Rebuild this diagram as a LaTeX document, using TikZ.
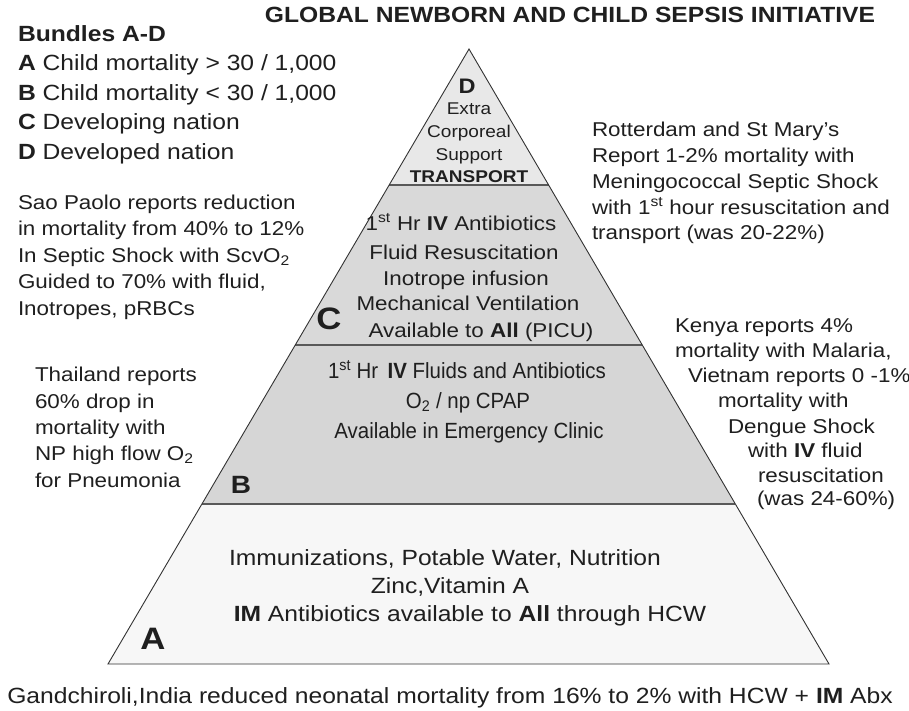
\documentclass[tikz,border=0pt]{standalone}
\usepackage{fontspec}
\setmainfont{Liberation Sans}[FakeStretch=1.12]
\newfontfamily\narrowfam{Liberation Sans}[FakeStretch=0.93]
\usetikzlibrary{calc}
\newcommand\myfs[2]{\fontsize{#1}{#2}\selectfont}
\begin{document}
\begin{tikzpicture}[x=1pt,y=-1pt,
  txt/.style={inner sep=0pt, outer sep=0pt, text=black!88},
  bundle/.style={txt, font=\myfs{22}{29.5}, align=left, anchor=base west},
  note/.style={txt, font=\myfs{20}{26.5}, align=left, anchor=base west},
  kline/.style={txt, font=\myfs{20}{24}, anchor=base west},
  ctext/.style={txt, font=\myfs{20}{24}, anchor=base},
  btext/.style={txt, font=\narrowfam\myfs{22}{26}, anchor=base},
  atext/.style={txt, font=\myfs{22}{28}, anchor=base},
  dtext/.style={txt, font=\myfs{17}{22.7}, align=center, anchor=base},
  letter/.style={txt, font=\bfseries, anchor=base},
  level/.style={draw=black!65, line width=1.6pt},
  outline/.style={draw=black!80, line width=0.9pt, line join=miter}
]
\useasboundingbox (0,0) rectangle (909,711);
\fill[white] (0,0) rectangle (909,711);

% pyramid geometry
\coordinate (apex) at (469,49);
\coordinate (bl) at (108,664);
\coordinate (br) at (829,664);
\coordinate (l1) at ($(apex)!0.2211!(bl)$);
\coordinate (r1) at ($(apex)!0.2211!(br)$);
\coordinate (l2) at ($(apex)!0.4813!(bl)$);
\coordinate (r2) at ($(apex)!0.4813!(br)$);
\coordinate (l3) at ($(apex)!0.7398!(bl)$);
\coordinate (r3) at ($(apex)!0.7398!(br)$);

\fill[black!9] (apex) -- (l1) -- (r1) -- cycle;
\fill[black!15] (l1) -- (l2) -- (r2) -- (r1) -- cycle;
\fill[black!16] (l2) -- (l3) -- (r3) -- (r2) -- cycle;
\fill[black!3] (l3) -- (bl) -- (br) -- (r3) -- cycle;
\draw[level] (l1) -- (r1);
\draw[level] (l2) -- (r2);
\draw[level] (l3) -- (r3);
\draw[outline] (apex) -- (bl) -- (br) -- cycle;

% title
\node[txt, font=\bfseries\myfs{22}{26}, anchor=base] (title) at (570,23)
  {GLOBAL NEWBORN AND CHILD SEPSIS INITIATIVE};

% bundles legend (base = last line)
\node[bundle] (bundles) at (18,159.5)
  {\textbf{Bundles A-D}\\
   \textbf{A} Child mortality > 30 / 1,000\\
   \textbf{B} Child mortality < 30 / 1,000\\
   \textbf{C} Developing nation\\
   \textbf{D} Developed nation};

% side notes (base = last line)
\node[note] (sao) at (18,315)
  {Sao Paolo reports reduction\\
   in mortality from 40\% to 12\%\\
   In Septic Shock with ScvO\textsubscript{2}\\
   Guided to 70\% with fluid,\\
   Inotropes, pRBCs};

\node[note, font=\myfs{20}{25.8}] (rot) at (592,240)
  {Rotterdam and St Mary’s\\
   Report 1-2\% mortality with\\
   Meningococcal Septic Shock\\
   with 1\textsuperscript{st} hour resuscitation and\\
   transport (was 20-22\%)};

\node[note, font=\myfs{20}{26.3}] (thai) at (35,487)
  {Thailand reports\\
   60\% drop in\\
   mortality with\\
   NP high flow O\textsubscript{2}\\
   for Pneumonia};

\node[kline] (k1) at (675,332) {Kenya reports 4\%};
\node[kline] (k2) at (675,357) {mortality with Malaria,};
\node[kline] (k3) at (688,382) {Vietnam reports 0 -1\%};
\node[kline] (k4) at (718,407) {mortality with};
\node[kline] (k5) at (728,433) {Dengue Shock};
\node[kline] (k6) at (748,457) {with \textbf{IV} fluid};
\node[kline] (k7) at (758,482) {resuscitation};
\node[kline] (k8) at (757,505) {(was 24-60\%)};

% level D
\node[letter, font=\bfseries\myfs{21}{24}] (D) at (467,94) {D};
\node[dtext] (dtxt) at (469,183)
  {Extra\\Corporeal\\Support\\\textbf{TRANSPORT}};

% level C
\node[letter, font=\bfseries\myfs{31}{34}] (C) at (329,329) {C};
\node[ctext] (c1) at (461,230) {1\textsuperscript{st} Hr \textbf{IV} Antibiotics};
\node[ctext] (c2) at (464,259) {Fluid Resuscitation};
\node[ctext] (c3) at (466,285) {Inotrope infusion};
\node[ctext] (c4) at (468,310) {Mechanical Ventilation};
\node[ctext] (c5) at (481,337) {Available to \textbf{All} (PICU)};

% level B
\node[letter, font=\bfseries\myfs{25}{28}] (B) at (241,493) {B};
\node[btext] (b1) at (467,378) {1\textsuperscript{st} Hr\, \textbf{IV} Fluids and Antibiotics};
\node[btext] (b2) at (468,408) {O\textsubscript{2} / np CPAP};
\node[btext] (b3) at (469,438) {Available in Emergency Clinic};

% level A
\node[letter, font=\bfseries\myfs{31}{34}] (A) at (153,649) {A};
\node[atext] (a1) at (445,565) {Immunizations, Potable Water, Nutrition};
\node[atext] (a2) at (450,593) {Zinc,Vitamin A};
\node[atext] (a3) at (470,621) {\textbf{IM} Antibiotics available to \textbf{All} through HCW};

% bottom note
\node[atext] (bottom) at (450,703)
  {Gandchiroli,India reduced neonatal mortality from 16\% to 2\% with HCW + \textbf{IM} Abx};
\end{tikzpicture}
\end{document}
